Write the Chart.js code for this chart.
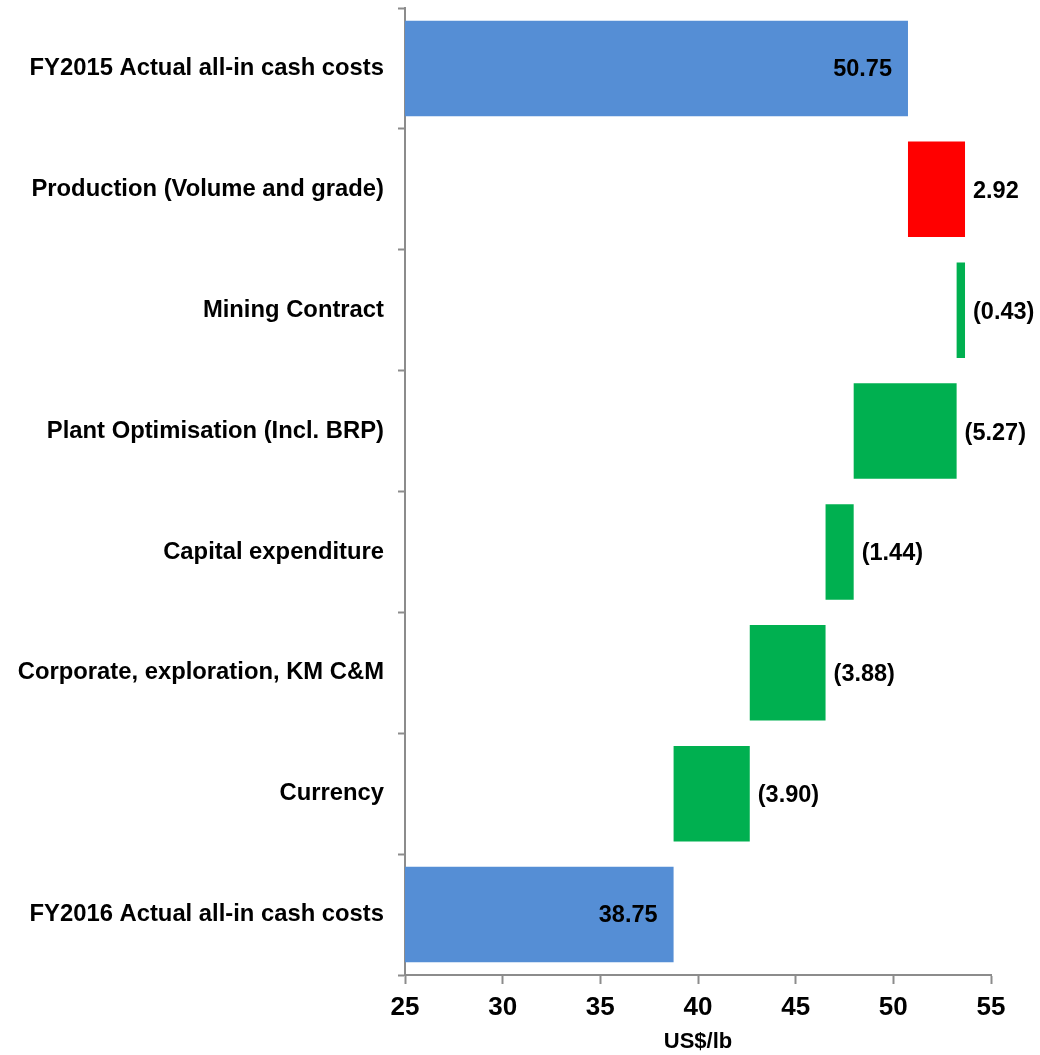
<!DOCTYPE html>
<html>
<head>
<meta charset="utf-8">
<script src="https://cdn.jsdelivr.net/npm/chart.js@4.4.0/dist/chart.umd.min.js"></script>
<style>
  html, body { margin: 0; padding: 0; background: #fff; }
  #wrap { width: 1040px; height: 1055px; }
</style>
</head>
<body>
<div id="wrap"><canvas id="costChart"></canvas></div>
<script>
// waterfall data
const categories = [
  'FY2015 Actual all-in cash costs',
  'Production (Volume and grade)',
  'Mining Contract',
  'Plant Optimisation (Incl. BRP)',
  'Capital expenditure',
  'Corporate, exploration, KM C&M',
  'Currency',
  'FY2016 Actual all-in cash costs'
];
const startValue = 50.75;
const stepChanges = [2.92, -0.43, -5.27, -1.44, -3.88, -3.90];
const endValue = 38.75;
const xTicks = [25, 30, 35, 40, 45, 50, 55];

const BLUE = '#558ED5';
const RED = '#FF0000';
const GREEN = '#00B050';
const AXIS = '#8C8C8C';
const FONT = "'Liberation Sans', Arial, sans-serif";

// build floating bars from the running total
const bars = [[xTicks[0], startValue]];
const labelText = [startValue.toFixed(2)];
const colors = [BLUE];
let running = startValue;
stepChanges.forEach(c => {
  const next = running + c;
  bars.push([running, next]);
  labelText.push(c < 0 ? '(' + Math.abs(c).toFixed(2) + ')' : c.toFixed(2));
  colors.push(c < 0 ? GREEN : RED);
  running = next;
});
bars.push([xTicks[0], endValue]);
labelText.push(endValue.toFixed(2));
colors.push(BLUE);

// value labels: totals inside the bar end, steps to the right of the bar
const valueLabels = {
  id: 'valueLabels',
  afterDatasetsDraw(chart) {
    const ctx = chart.ctx;
    const meta = chart.getDatasetMeta(0);
    ctx.save();
    ctx.font = 'bold 23.5px ' + FONT;
    ctx.fillStyle = '#000';
    ctx.textBaseline = 'middle';
    meta.data.forEach((bar, i) => {
      const right = Math.max(bar.x, bar.base);
      const isTotal = i === 0 || i === meta.data.length - 1;
      if (isTotal) {
        ctx.textAlign = 'right';
        ctx.fillText(labelText[i], right - 16, bar.y + 1);
      } else {
        ctx.textAlign = 'left';
        ctx.fillText(labelText[i], right + 8, bar.y + 2);
      }
    });
    ctx.restore();
  }
};

const ctx = document.getElementById('costChart').getContext('2d');
new Chart(ctx, {
  type: 'bar',
  data: {
    labels: categories,
    datasets: [{
      data: bars,
      backgroundColor: colors,
      borderWidth: 0,
      barPercentage: 0.79,
      categoryPercentage: 1.0,
    }],
  },
  options: {
    indexAxis: 'y',
    responsive: true,
    maintainAspectRatio: false,
    animation: false,
    layout: {
      padding: { left: 0, right: 49, top: 8, bottom: 0 },
    },
    plugins: {
      legend: { display: false },
      tooltip: { enabled: false },
    },
    scales: {
      x: {
        min: xTicks[0],
        max: xTicks[xTicks.length - 1],
        afterBuildTicks: axis => { axis.ticks = xTicks.map(v => ({ value: v })); },
        afterFit: axis => { axis.height = 80; },
        border: { color: AXIS, width: 2 },
        grid: {
          drawOnChartArea: false,
          drawTicks: true,
          tickLength: 9,
          tickColor: AXIS,
          tickWidth: 2,
        },
        ticks: {
          color: '#000',
          padding: 8,
          maxRotation: 0,
          font: { family: FONT, size: 26, weight: 'bold' },
        },
        title: {
          display: true,
          text: 'US$/lb',
          color: '#000',
          padding: { top: 0, bottom: 0 },
          font: { family: FONT, size: 22, weight: 'bold' },
        },
      },
      y: {
        afterFit: axis => {
          axis.width = 405;
          axis.paddingTop = 0;
          axis.paddingBottom = 0;
        },
        border: { color: AXIS, width: 2 },
        grid: {
          offset: true,
          drawOnChartArea: false,
          drawTicks: true,
          tickLength: 7,
          tickColor: AXIS,
          tickWidth: 2,
        },
        ticks: {
          color: '#000',
          padding: 14,
          autoSkip: false,
          font: { family: FONT, size: 23.8, weight: 'bold' },
        },
      },
    },
  },
  plugins: [valueLabels],
});
</script>
</body>
</html>
